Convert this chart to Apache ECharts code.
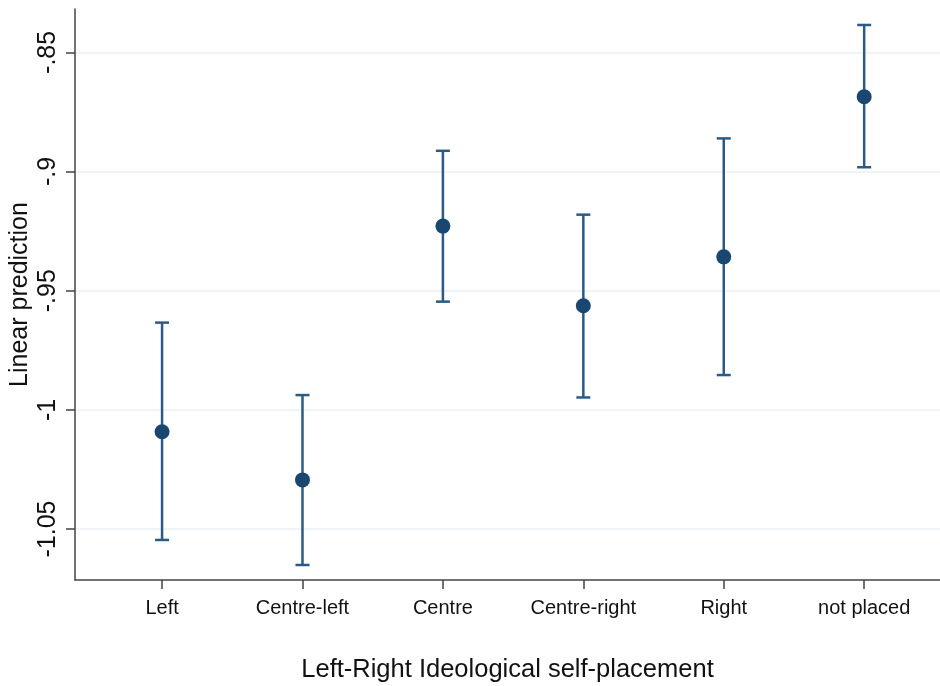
<!DOCTYPE html>
<html>
<head>
<meta charset="utf-8">
<script src="https://cdn.jsdelivr.net/npm/echarts@6/dist/echarts.min.js"></script>
<style>html,body{margin:0;padding:0;background:#fff}#c{width:940px;height:686px}</style>
</head>
<body>
<div id="c"></div>
<script>
const categories = ['Left', 'Centre-left', 'Centre', 'Centre-right', 'Right', 'not placed'];
const estimates = [-1.0092, -1.0294, -0.9229, -0.9563, -0.9358, -0.8686];
const upper = [-0.9634, -0.9938, -0.8913, -0.9181, -0.8861, -0.8385];
const lower = [-1.0546, -1.0651, -0.9546, -0.9948, -0.9854, -0.8982];
const yTicks = [-1.05, -1, -0.95, -0.9, -0.85];
const xTicks = [1, 2, 3, 4, 5, 6];

const navy = '#1a476f';
const barColor = '#2b5a86';
const font = 'Liberation Sans, Arial, sans-serif';

function fmtY(v) {
  let s = String(Math.round(v * 100) / 100);
  return s.replace(/^(-?)0\./, '$1.');
}

const chart = echarts.init(document.getElementById('c'), null, { renderer: 'canvas' });
chart.setOption({
  animation: false,
  backgroundColor: '#fff',
  grid: { left: 75, right: 0, top: 9, bottom: 106, containLabel: false, outerBoundsMode: 'none' },
  xAxis: {
    type: 'value', min: 0.38, max: 6.54,
    name: 'Left-Right Ideological self-placement',
    nameLocation: 'middle', nameGap: 77, nameMoveOverlap: false,
    nameTextStyle: { fontFamily: font, fontSize: 25.5, color: '#111' },
    axisLine: { show: true, onZero: false, lineStyle: { color: '#444', width: 1.5 } },
    axisTick: { show: true, customValues: xTicks, length: 9, lineStyle: { color: '#444', width: 1.5 } },
    axisLabel: { customValues: xTicks, margin: 18, fontFamily: font, fontSize: 20, color: '#111',
      formatter: v => categories[Math.round(v) - 1] },
    splitLine: { show: false }
  },
  yAxis: {
    type: 'value', min: -1.0714, max: -0.8318,
    name: 'Linear prediction', nameLocation: 'middle', nameGap: 42, nameMoveOverlap: false,
    nameTextStyle: { fontFamily: font, fontSize: 25, color: '#111' },
    axisLine: { show: true, onZero: false, lineStyle: { color: '#444', width: 1.5 } },
    axisTick: { show: true, customValues: yTicks, length: 9, lineStyle: { color: '#444', width: 1.5 } },
    axisLabel: { customValues: yTicks, rotate: 90, margin: 14, fontFamily: font, fontSize: 25, color: '#111',
      formatter: fmtY },
    splitLine: { show: true, lineStyle: { color: '#eaf2f3', width: 1.5 } }
  },
  series: [
    {
      type: 'custom',
      data: xTicks.map((x, i) => [x, lower[i], upper[i]]),
      renderItem: function (params, api) {
        const x = api.value(0);
        const lo = api.coord([x, api.value(1)]);
        const hi = api.coord([x, api.value(2)]);
        const cap = 7;
        const style = { stroke: barColor, lineWidth: 2.5 };
        return {
          type: 'group',
          children: [
            { type: 'line', shape: { x1: lo[0], y1: lo[1], x2: hi[0], y2: hi[1] }, style },
            { type: 'line', shape: { x1: lo[0] - cap, y1: lo[1], x2: lo[0] + cap, y2: lo[1] }, style },
            { type: 'line', shape: { x1: hi[0] - cap, y1: hi[1], x2: hi[0] + cap, y2: hi[1] }, style }
          ]
        };
      },
      z: 2
    },
    {
      type: 'scatter',
      data: xTicks.map((x, i) => [x, estimates[i]]),
      symbol: 'circle', symbolSize: 15,
      itemStyle: { color: navy, opacity: 1 },
      z: 3
    }
  ]
});
</script>
</body>
</html>
